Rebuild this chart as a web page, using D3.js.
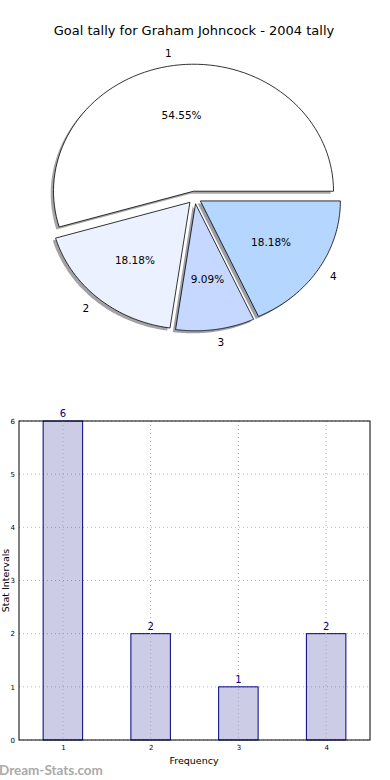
<!DOCTYPE html>
<html>
<head>
<meta charset="utf-8">
<script src="https://cdnjs.cloudflare.com/ajax/libs/d3/7.8.5/d3.min.js"></script>
<style>
  html, body { margin: 0; padding: 0; background: #fff; }
  svg { display: block; font-family: "DejaVu Sans", sans-serif; }
</style>
</head>
<body>
<svg id="chart" width="390" height="780"></svg>
<script>
'use strict';

// data
var title = 'Goal tally for Graham Johncock - 2004 tally';
var categories = ['1', '2', '3', '4'];
var goals = [6, 2, 1, 2];
var sliceColors = ['#ffffff', '#ebf1ff', '#c6d8ff', '#b4d6ff'];
var yTicks = [0, 1, 2, 3, 4, 5, 6];
var xLabel = 'Frequency';
var yLabel = 'Stat Intervals';
var watermark = 'Dream-Stats.com';

(function() {
  var svg = d3.select('#chart');

  svg.append('text')
    .attr('x', 194)
    .attr('y', 35)
    .attr('text-anchor', 'middle')
    .style('font-size', '13px')
    .style('fill', '#000')
    .text(title);

  // ---- pie (elliptical, matplotlib style: start at 3 o'clock, counterclockwise)
  var cx = 194.5, cy = 197.5, rx = 140, ry = 127;
  var explode = 0.05;

  // unit space -> pixels
  var px = d3.scaleLinear().domain([-1, 1]).range([cx - rx, cx + rx]);
  var py = d3.scaleLinear().domain([-1, 1]).range([cy - ry, cy + ry]);

  var total = d3.sum(goals);
  var pie = d3.pie().sort(null)
    .startAngle(Math.PI / 2)
    .endAngle(Math.PI / 2 - 2 * Math.PI);
  var arcs = pie(goals);

  // d3 angle (0 = up, clockwise) -> unit point
  function pt(a, r) {
    return [r * Math.sin(a), -r * Math.cos(a)];
  }

  function slicePath(d, ox, oy) {
    var p = d3.path();
    p.moveTo(px(ox), py(oy));
    var steps = 80;
    for (var i = 0; i <= steps; i++) {
      var a = d.startAngle + (d.endAngle - d.startAngle) * i / steps;
      var q = pt(a, 1);
      p.lineTo(px(ox + q[0]), py(oy + q[1]));
    }
    p.closePath();
    return p.toString();
  }

  var pieG = svg.append('g');

  arcs.forEach(function(d) {
    var mid = (d.startAngle + d.endAngle) / 2;
    var off = pt(mid, explode);
    d.ox = off[0];
    d.oy = off[1];
    d.mid = mid;
  });

  // shadows first
  pieG.selectAll('path.shadow')
    .data(arcs)
    .enter().append('path')
    .attr('class', 'shadow')
    .attr('d', function(d) { return slicePath(d, d.ox - 0.02, d.oy + 0.02); })
    .style('fill', function(d, i) {
      var c = d3.rgb(sliceColors[i]);
      return d3.rgb(c.r * 0.3, c.g * 0.3, c.b * 0.3).toString();
    })
    .style('opacity', 0.5);

  pieG.selectAll('path.slice')
    .data(arcs)
    .enter().append('path')
    .attr('class', 'slice')
    .attr('d', function(d) { return slicePath(d, d.ox, d.oy); })
    .style('fill', function(d, i) { return sliceColors[i]; })
    .style('stroke', '#000')
    .style('stroke-width', 0.8);

  pieG.selectAll('text.lbl')
    .data(arcs)
    .enter().append('text')
    .attr('class', 'lbl')
    .attr('x', function(d) { return px(d.ox + pt(d.mid, 1.1)[0]); })
    .attr('y', function(d) { return py(d.oy + pt(d.mid, 1.1)[1]); })
    .attr('dy', '0.35em')
    .attr('text-anchor', function(d) {
      return Math.sin(d.mid) > 0 ? 'start' : 'end';
    })
    .style('font-size', '10.5px')
    .text(function(d, i) { return categories[i]; });

  pieG.selectAll('text.pct')
    .data(arcs)
    .enter().append('text')
    .attr('class', 'pct')
    .attr('x', function(d) { return px(d.ox + pt(d.mid, 0.6)[0]); })
    .attr('y', function(d) { return py(d.oy + pt(d.mid, 0.6)[1]); })
    .attr('dy', '0.35em')
    .attr('text-anchor', 'middle')
    .style('font-size', '10.5px')
    .text(function(d) { return (d.value / total * 100).toFixed(2) + '%'; });

  // ---- bar chart
  var plotL = 19, plotR = 370, plotT = 421, plotB = 740;

  var x = d3.scaleLinear().domain([0.5, 4.5]).range([plotL, plotR]);
  var y = d3.scaleLinear().domain([0, 6]).range([plotB, plotT]);
  var barW = 0.45;

  var barG = svg.append('g');

  // grid
  barG.selectAll('line.gy')
    .data(yTicks)
    .enter().append('line')
    .attr('x1', plotL).attr('x2', plotR)
    .attr('y1', function(d) { return y(d); })
    .attr('y2', function(d) { return y(d); })
    .style('stroke', '#bbb')
    .style('stroke-width', 1)
    .style('stroke-dasharray', '1,3');

  barG.selectAll('rect.bar')
    .data(goals)
    .enter().append('rect')
    .attr('x', function(d, i) { return x(+categories[i] - barW / 2); })
    .attr('width', function() { return x(1 + barW) - x(1); })
    .attr('y', function(d) { return y(d); })
    .attr('height', function(d) { return y(0) - y(d); })
    .style('fill', '#000080')
    .style('fill-opacity', 0.2)
    .style('stroke', '#000080')
    .style('stroke-width', 1);

  // vertical grid is drawn over the bars
  barG.selectAll('line.gx')
    .data(categories)
    .enter().append('line')
    .attr('x1', function(d) { return x(+d); })
    .attr('x2', function(d) { return x(+d); })
    .attr('y1', plotT).attr('y2', plotB)
    .style('stroke', '#aaa')
    .style('stroke-width', 1)
    .style('stroke-dasharray', '1,3');

  barG.selectAll('text.val')
    .data(goals)
    .enter().append('text')
    .attr('x', function(d, i) { return x(+categories[i]); })
    .attr('y', function(d) { return y(d) - 4; })
    .attr('text-anchor', 'middle')
    .style('font-size', '10px')
    .style('fill', '#000080')
    .text(function(d) { return d; });

  // axes
  var yAxis = d3.axisLeft(y).tickValues(yTicks).tickSize(0).tickPadding(4)
    .tickFormat(d3.format('d'));
  var xAxis = d3.axisBottom(x).tickValues(categories.map(Number)).tickSize(0).tickPadding(5)
    .tickFormat(d3.format('d'));

  var ya = barG.append('g').attr('transform', 'translate(' + plotL + ',0)').call(yAxis);
  var xa = barG.append('g').attr('transform', 'translate(0,' + plotB + ')').call(xAxis);
  [ya, xa].forEach(function(a) {
    a.select('.domain').remove();
    a.selectAll('text').style('font-size', '7px').style('font-family', '"DejaVu Sans", sans-serif');
  });

  barG.append('rect')
    .attr('x', plotL).attr('y', plotT)
    .attr('width', plotR - plotL).attr('height', plotB - plotT)
    .style('fill', 'none')
    .style('stroke', '#000')
    .style('stroke-width', 1);

  barG.append('text')
    .attr('x', 194)
    .attr('y', 764)
    .attr('text-anchor', 'middle')
    .style('font-size', '9.5px')
    .text(xLabel);

  barG.append('text')
    .attr('transform', 'translate(8.5,' + ((plotT + plotB) / 2) + ') rotate(-90)')
    .attr('text-anchor', 'middle')
    .style('font-size', '9.5px')
    .text(yLabel);

  svg.append('text')
    .attr('x', -1)
    .attr('y', 775)
    .style('font-family', 'Lato, "Open Sans", sans-serif')
    .style('font-weight', 'bold')
    .style('font-size', '13.5px')
    .style('fill', '#aaa')
    .text(watermark);
})();
</script>
</body>
</html>
